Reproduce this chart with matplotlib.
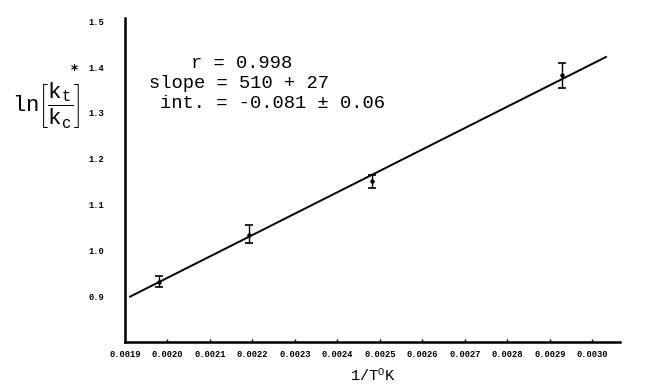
import matplotlib
matplotlib.use("Agg")
from matplotlib import pyplot as plt
import numpy as np

plt.rcParams['mathtext.fontset'] = 'custom'
plt.rcParams['mathtext.tt'] = 'Liberation Mono'
plt.rcParams['mathtext.rm'] = 'Liberation Mono'
plt.rcParams['mathtext.it'] = 'Liberation Mono'

# data: 1/T (K^-1) vs ln(kt/kc)
inv_t = [0.00198, 0.002192, 0.002481, 0.002928]
ln_ratio = [0.930, 1.034, 1.151, 1.383]
err_low = [0.009, 0.017, 0.014, 0.029]
err_high = [0.013, 0.022, 0.014, 0.026]

# fitted line end points
fit_x = [0.001912, 0.003032]
fit_y = [0.899, 1.422]

x_ticks = [0.0019, 0.0020, 0.0021, 0.0022, 0.0023, 0.0024, 0.0025,
           0.0026, 0.0027, 0.0028, 0.0029, 0.0030]
y_ticks = [0.9, 1.0, 1.1, 1.2, 1.3, 1.4, 1.5]

stats_lines = ["r = 0.998", "slope = 510 + 27", "int. = -0.081 \u00b1 0.06"]

mono = 'Liberation Mono'

fig = plt.figure(figsize=(6.45, 3.87), dpi=100)
ax = fig.add_axes([125 / 645., 1 - 342 / 387., 495 / 645., 324 / 387.])

ax.plot(fit_x, fit_y, color='black', linewidth=1.4)
ax.errorbar(inv_t, ln_ratio, yerr=[err_low, err_high], fmt='o', color='black',
            markersize=2.2, elinewidth=1.0, capsize=3.2, capthick=1.2)

ax.set_xlim(0.0019, 0.003065)
ax.set_ylim(0.8, 1.507)
ax.spines['top'].set_visible(False)
ax.spines['right'].set_visible(False)
ax.spines['left'].set_linewidth(1.8)
ax.spines['bottom'].set_linewidth(1.8)

ax.set_xticks(x_ticks)
ax.set_xticklabels(['%.4f' % v for v in x_ticks], fontsize=6.3, family=mono,
                   fontweight='bold')
ax.set_yticks(y_ticks)
ax.set_yticklabels(['%.1f' % v for v in y_ticks], fontsize=6.3, family=mono,
                   fontweight='bold')
ax.tick_params(axis='x', direction='in', length=2, width=1, pad=6)
ax.tick_params(axis='y', length=0, pad=15)

ax.set_xlabel(r'1/T$^{\mathrm{O}}$K', fontsize=11, family=mono, labelpad=6)

# stats block
ax.text(0.236, 0.861, stats_lines[0], transform=ax.transAxes, ha='center',
        va='center', fontsize=13.5, family=mono)
ax.text(0.230, 0.799, stats_lines[1], transform=ax.transAxes, ha='center',
        va='center', fontsize=13.5, family=mono)
ax.text(0.297, 0.735, stats_lines[2], transform=ax.transAxes, ha='center',
        va='center', fontsize=13.5, family=mono)

# y label, written horizontally to the left of the axis
fig.text(12 / 645., 1 - 106 / 387.,
         r'$\mathtt{ln}\left[\dfrac{\mathtt{k_t}}{\mathtt{k_c}}\right]$',
         fontsize=16, ha='left', va='center')
fig.text(74 / 645., 1 - 70 / 387., '*', fontsize=10, fontweight='bold',
         family='DejaVu Sans', ha='center', va='center')

fig.savefig('out.png', dpi=100)
